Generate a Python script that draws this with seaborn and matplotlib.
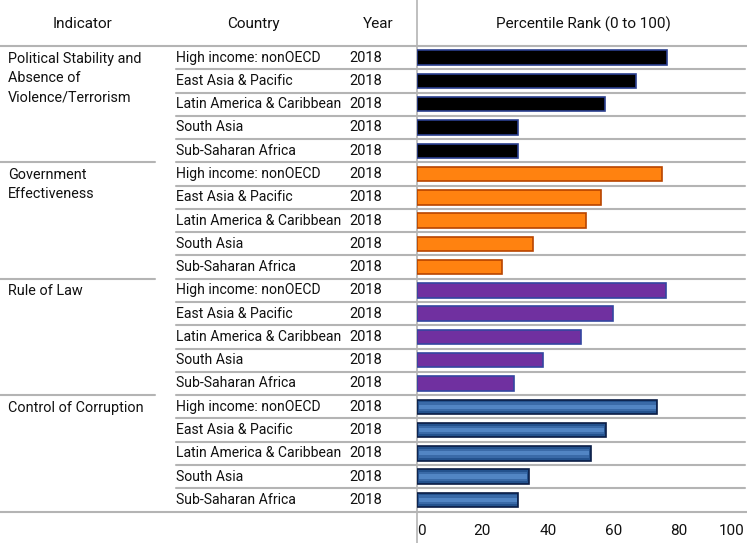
import numpy as np
import pandas as pd
import matplotlib
matplotlib.use('Agg')
import matplotlib.pyplot as plt
import seaborn as sns

# data
indicators = ['Political Stability and\nAbsence of\nViolence/Terrorism',
              'Government\nEffectiveness', 'Rule of Law', 'Control of Corruption']
countries = ['High income: nonOECD', 'East Asia & Pacific', 'Latin America & Caribbean',
             'South Asia', 'Sub-Saharan Africa']
year = '2018'
pol_stab = [76.3, 67.0, 57.6, 31.0, 31.0]
gov_eff = [74.9, 56.4, 51.7, 35.6, 26.1]
rule_law = [76.1, 59.8, 50.0, 38.4, 29.7]
corruption = [73.5, 57.7, 53.2, 34.1, 31.0]
x_ticks = [0, 20, 40, 60, 80, 100]

fill_cols = ['#000000', '#ff8210', '#7030a0', '#24528e']
edge_cols = ['#2b3f8f', '#b84400', '#3346a0', '#0a1d45']

rows = []
for k, vals in enumerate([pol_stab, gov_eff, rule_law, corruption]):
    for j, v in enumerate(vals):
        rows.append({'row': k * 5 + j, 'ind': k, 'country': countries[j], 'value': v})
df = pd.DataFrame(rows)

sns.set_theme(style='white')
plt.rcParams['font.family'] = ['Roboto', 'DejaVu Sans']
fsize = 10.1
txtcol = '#111111'
gridcol = '#b4b4b4'

W, H = 747, 543
top_px, bot_px = 46, 511.5
x0_px, x1_px = 417, 744
rh = (bot_px - top_px) / 20

fig = plt.figure(figsize=(W / 100, H / 100), dpi=100)

# table layer in pixel coords
tab = fig.add_axes([0, 0, 1, 1])
tab.set_xlim(0, W)
tab.set_ylim(H, 0)
tab.axis('off')

tab.text(83, 24, 'Indicator', ha='center', va='center', fontsize=11, color=txtcol)
tab.text(253, 24, 'Country', ha='center', va='center', fontsize=11, color=txtcol)
tab.text(378, 24, 'Year', ha='center', va='center', fontsize=11, color=txtcol)
tab.text(583, 24, 'Percentile Rank (0 to 100)', ha='center', va='center', fontsize=11, color=txtcol)

tab.plot([0, W], [top_px, top_px], color=gridcol, lw=1.5)
tab.plot([0, W], [bot_px, bot_px], color=gridcol, lw=1.5)
tab.plot([x0_px - 0.5, x0_px - 0.5], [0, H], color=gridcol, lw=1.2)

for _, r in df.iterrows():
    yc = top_px + (r['row'] + 0.5) * rh
    tab.text(176, yc, r['country'], ha='left', va='center', fontsize=fsize, color=txtcol)
    tab.text(349, yc, year, ha='left', va='center', fontsize=fsize + 0.4, color=txtcol)
    if r['row'] > 0:
        yl = top_px + r['row'] * rh
        tab.plot([176, W - 2], [yl, yl], color=gridcol, lw=1.5)
        if r['row'] % 5 == 0:
            tab.plot([0, 155], [yl, yl], color=gridcol, lw=1.5)

for k, name in enumerate(indicators):
    yt = top_px + k * 5 * rh + 5.5
    tab.text(8, yt, name, ha='left', va='top', fontsize=fsize + 0.3, color=txtcol, linespacing=1.5)

# bars
ax = fig.add_axes([x0_px / W, (H - bot_px) / H, (x1_px - x0_px) / W, (bot_px - top_px) / H])
ax.patch.set_alpha(0)
sns.barplot(data=df, x='value', y='row', hue='ind', orient='h', dodge=False, width=0.62,
            palette=dict(enumerate(fill_cols)), saturation=1, legend=False, ax=ax, linewidth=1.2)
for p in ax.patches:
    c = p.get_facecolor()
    for k, fc in enumerate(fill_cols):
        if np.allclose(c[:3], matplotlib.colors.to_rgb(fc), atol=0.02):
            p.set_edgecolor(edge_cols[k])

# lighter bands inside the blue bars (fake gradient)
df_c = df[df['ind'] == 3]
sns.barplot(data=df_c, x='value', y='row', orient='h', width=0.38, color='#3a6aa8',
            saturation=1, ax=ax, linewidth=0, order=list(range(20)))
sns.barplot(data=df_c, x='value', y='row', orient='h', width=0.18, color='#5285c4',
            saturation=1, ax=ax, linewidth=0, order=list(range(20)))
for p in ax.patches[-10:]:
    p.set_x(p.get_x() + 0.5)
    p.set_width(max(p.get_width() - 1.0, 0))

ax.set_xlim(0, 100)
ax.set_ylim(19.5, -0.5)
ax.set_xticks(x_ticks)
ax.set_yticks([])
ax.set_xlabel('')
ax.set_ylabel('')
for s in ax.spines.values():
    s.set_visible(False)
ax.tick_params(axis='x', length=0, pad=9, labelsize=11, labelcolor=txtcol)
lbls = ax.get_xticklabels()
lbls[0].set_ha('left')
lbls[-1].set_ha('right')

fig.savefig('out.png', dpi=100)
